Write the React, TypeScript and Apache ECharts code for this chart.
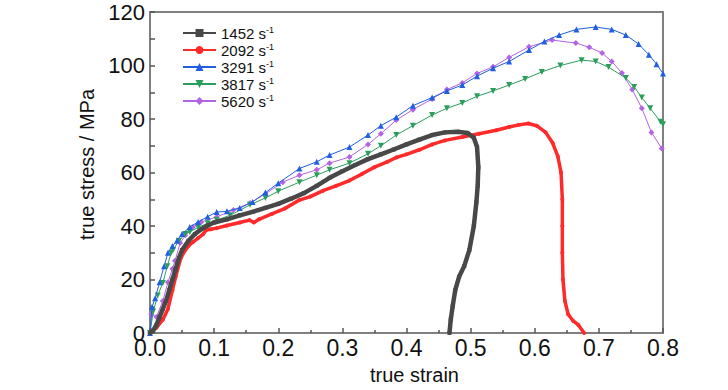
import React, { useEffect, useRef } from "react";
import * as echarts from "echarts";

const rateNames = ["1452", "2092", "3291", "3817", "5620"];
const colors = ["#484848", "#ff2a2a", "#1f5fe0", "#2b9e5c", "#b364e3"];

const s1452: number[][] = [
  [0, 0], [0.005, 1], [0.01, 3], [0.015, 6], [0.02, 9], [0.025, 12], [0.03, 16], [0.035, 20], [0.04, 24],
  [0.045, 28], [0.05, 31], [0.06, 34.5], [0.07, 37], [0.08, 38.8], [0.09, 40.2], [0.1, 41.3], [0.12, 42.5],
  [0.14, 44], [0.16, 45.3], [0.18, 46.8], [0.2, 48.3], [0.22, 50.2], [0.24, 52.3], [0.26, 55], [0.28, 58],
  [0.3, 60.5], [0.32, 62.8], [0.34, 65], [0.36, 66.8], [0.38, 68.6], [0.4, 70.5], [0.42, 72.3], [0.44, 74],
  [0.46, 75], [0.48, 75.2], [0.495, 74.8], [0.505, 73], [0.51, 69.5], [0.512, 62], [0.511, 55], [0.509, 49],
  [0.505, 40], [0.498, 31], [0.49, 25], [0.482, 21], [0.476, 16], [0.472, 10], [0.469, 5], [0.467, 0],
];

const s2092: number[][] = [
  [0, 0], [0.01, 2], [0.02, 5], [0.028, 9], [0.035, 16], [0.04, 21], [0.048, 28], [0.055, 31], [0.06, 32.5],
  [0.067, 34], [0.075, 35.5], [0.083, 37], [0.088, 38.5], [0.095, 38.8], [0.104, 39.2], [0.12, 40.2],
  [0.14, 41.3], [0.155, 42.2], [0.162, 41.3], [0.17, 42.5], [0.19, 44.5], [0.21, 46.5], [0.233, 49.7],
  [0.25, 51], [0.27, 53.2], [0.29, 55], [0.311, 57], [0.331, 59.5], [0.35, 62], [0.37, 64], [0.384, 65.6],
  [0.4, 66.8], [0.42, 68.5], [0.44, 70.5], [0.46, 72], [0.487, 73.3], [0.513, 74.5], [0.54, 75.8],
  [0.56, 77], [0.575, 77.8], [0.59, 78.3], [0.603, 77.5], [0.617, 75], [0.628, 71], [0.636, 66],
  [0.641, 60], [0.643, 50], [0.643, 40], [0.643, 30], [0.644, 20], [0.647, 12], [0.652, 7], [0.66, 4.5],
  [0.668, 3], [0.677, 0],
];

const s3291: number[][] = [
  [0, 0], [0.003, 9.7], [0.008, 13], [0.015, 19], [0.022, 25], [0.028, 30], [0.035, 32.5], [0.042, 34.5],
  [0.05, 37], [0.062, 39.6], [0.075, 41.5], [0.09, 43.5], [0.104, 45.2], [0.12, 45.5], [0.14, 46.7],
  [0.16, 49], [0.18, 52.5], [0.2, 56], [0.233, 61.5], [0.26, 64], [0.28, 66.5], [0.311, 69.5], [0.34, 74],
  [0.36, 77.5], [0.384, 80.7], [0.41, 85], [0.44, 88], [0.463, 90.5], [0.487, 92.7], [0.51, 96],
  [0.535, 99], [0.56, 101.5], [0.591, 105.8], [0.615, 109], [0.638, 111.4], [0.665, 113.5], [0.695, 114.4],
  [0.72, 113.5], [0.742, 111.4], [0.762, 108], [0.778, 104], [0.79, 100.5], [0.8, 97],
];

const s3817: number[][] = [
  [0, 0], [0.005, 8], [0.012, 14], [0.02, 18.7], [0.027, 25], [0.033, 30], [0.036, 31], [0.045, 34.5],
  [0.055, 37], [0.062, 37.8], [0.075, 39.5], [0.09, 41], [0.104, 42.2], [0.125, 44], [0.156, 47.9],
  [0.18, 50.5], [0.2, 53], [0.233, 56.4], [0.26, 59], [0.28, 61], [0.311, 63.5], [0.34, 67], [0.36, 70],
  [0.384, 74], [0.41, 77.5], [0.44, 81.5], [0.463, 84], [0.487, 86], [0.51, 88.5], [0.535, 90.5],
  [0.56, 92.7], [0.585, 95], [0.611, 97.6], [0.64, 100], [0.673, 102], [0.695, 101.5], [0.715, 99.4],
  [0.742, 95.3], [0.755, 92], [0.767, 88], [0.78, 84], [0.796, 79], [0.8, 78],
];

const s5620: number[][] = [
  [0, 0], [0.002, 7], [0.01, 6], [0.02, 12], [0.028, 19], [0.035, 24], [0.039, 27], [0.047, 33.6],
  [0.055, 36.5], [0.067, 39.6], [0.08, 41.5], [0.104, 43.4], [0.13, 46], [0.156, 48.6], [0.18, 52],
  [0.207, 56.4], [0.233, 59], [0.26, 61], [0.28, 63.5], [0.311, 65.8], [0.34, 70.5], [0.36, 74.5],
  [0.384, 79.6], [0.41, 83.5], [0.44, 87.5], [0.463, 91], [0.487, 93.5], [0.51, 97], [0.535, 99.5],
  [0.56, 103], [0.591, 107], [0.627, 109.5], [0.664, 108.4], [0.685, 106.8], [0.705, 104.7], [0.72, 101.5],
  [0.736, 97.2], [0.752, 91], [0.767, 84], [0.782, 75], [0.798, 69],
];

const seriesData = [s1452, s2092, s3291, s3817, s5620];
const symbols = ["rect", "circle", "triangle", "triangle", "diamond"];
const symbolRotate = [0, 0, 0, 180, 0];
const symbolSizes = [4, 4, 6, 6, 6];
const lineWidths = [4.5, 3.5, 1, 1, 1];

const FONT = "'Liberation Sans Narrow', 'Arial Narrow', 'Liberation Sans', sans-serif";

export default function App() {
  const ref = useRef<HTMLDivElement>(null);
  useEffect(() => {
    if (!ref.current) return;
    const chart = echarts.init(ref.current, null, { renderer: "svg" });
    chart.setOption({
      animation: false,
      grid: {
        left: 150, right: 65, top: 12, bottom: 57,
        outerBoundsMode: "none",
        containLabel: false,
        show: true, borderColor: "#808080", borderWidth: 2, backgroundColor: "transparent",
      },
      legend: {
        orient: "vertical",
        left: 177,
        top: 20.5,
        itemWidth: 33,
        itemHeight: 10,
        itemGap: 2,
        data: rateNames,
        textStyle: {
          fontFamily: FONT, fontSize: 15, color: "#111", lineHeight: 15,
          rich: {
            n: { fontFamily: FONT, fontSize: 15, color: "#111", lineHeight: 15 },
            sup: { fontFamily: FONT, fontSize: 9, color: "#111", verticalAlign: "top", lineHeight: 15, padding: [0, 0, 6, 0] },
          },
        },
        formatter: (name: string) => `{n|${name} s}{sup|-1}`,
      },
      xAxis: {
        type: "value",
        min: 0, max: 0.8, interval: 0.1,
        name: "true strain",
        nameLocation: "middle",
        nameGap: 32,
        nameTextStyle: { fontFamily: FONT, fontSize: 20, color: "#111", padding: [0, 0, 0, 16] },
        axisLine: { show: true, lineStyle: { color: "#808080", width: 2 } },
        axisTick: { show: true, inside: true, length: 5, lineStyle: { color: "#555", width: 1.5 } },
        minorTick: { show: true, splitNumber: 2, length: 3, lineStyle: { color: "#555", width: 1.5 } },
        axisLabel: {
          fontFamily: FONT, fontSize: 23, color: "#111", margin: 3,
          formatter: (v: number) => v.toFixed(1),
        },
        splitLine: { show: false },
      },
      yAxis: {
        type: "value",
        min: 0, max: 120, interval: 20,
        name: "true stress / MPa",
        nameLocation: "middle",
        nameGap: 51,
        nameTextStyle: { fontFamily: FONT, fontSize: 20, color: "#111", padding: [0, 0, 0, 16] },
        axisLine: { show: true, lineStyle: { color: "#808080", width: 2 } },
        axisTick: { show: true, inside: true, length: 5, lineStyle: { color: "#555", width: 1.5 } },
        minorTick: { show: true, splitNumber: 2, length: 5, lineStyle: { color: "#555", width: 1.5 } },
        axisLabel: { fontFamily: FONT, fontSize: 22, color: "#111", margin: 5 },
        splitLine: { show: false },
      },
      series: rateNames.map((name, i) => ({
        name,
        type: "line",
        data: seriesData[i],
        showAllSymbol: true,
        symbol: symbols[i],
        symbolRotate: symbolRotate[i],
        symbolSize: symbolSizes[i],
        itemStyle: { color: colors[i] },
        lineStyle: { color: colors[i], width: lineWidths[i] },
        z: 10 - i,
      })),
    });
    return () => chart.dispose();
  }, []);
  return (
    <div
      ref={ref}
      style={{ position: "absolute", left: 0, top: 0, width: 728, height: 390 }}
    />
  );
}
